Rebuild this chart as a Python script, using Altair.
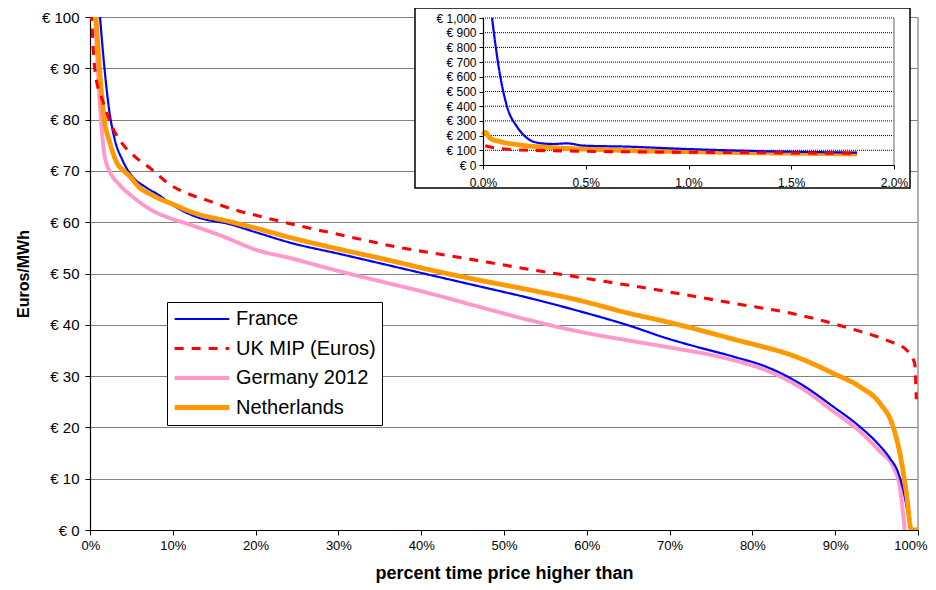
import altair as alt
import pandas as pd

# ---------------- data ----------------
names = ["France", "UK MIP (Euros)", "Germany 2012", "Netherlands"]
colors = ["#0000FF", "#FF0000", "#FF99CC", "#FF9900"]
dashes = [[1, 0], [9, 8], [1, 0], [1, 0]]
widths = [2.2, 4.8, 4.5, 4.5]

# main chart: percent of time (x) vs price EUR/MWh (y)
fr_x = [1.21, 1.73, 2.33, 2.93, 3.95, 5.16, 6.76, 8.4, 10.0, 12.9, 16.9, 20.1, 24.2, 30.2, 35.0,
        41.1, 47.0, 53.1, 59.0, 65.2, 69.6, 73.5, 77.7, 81.7, 85.7, 89.8, 93.0, 95.4, 96.6,
        97.6, 98.3, 98.8, 99.2]
fr_y = [100, 90.3, 81.7, 76.5, 72.0, 68.8, 66.8, 65.2, 63.3, 61.0, 59.6, 58.0, 56.0, 53.8, 52.0,
        49.7, 47.5, 45.2, 42.7, 39.8, 37.4, 35.6, 33.8, 31.8, 28.6, 24.0, 20.1, 16.4, 14.0,
        11.2, 7.2, 3.0, 0.0]

uk_x = [0.1, 0.24, 0.4, 0.72, 1.53, 2.54, 3.95, 5.56, 7.2, 9.6, 12.4, 14.1, 17.3, 20.9, 25.8, 29.8,
        37.0, 45.1, 53.1, 62.4, 69.6, 77.7, 85.7, 91.8, 96.2, 98.6, 99.6, 99.8]
uk_y = [101, 98.6, 93.4, 88.2, 83.7, 79.1, 75.2, 72.6, 70.6, 67.4, 65.2, 64.3, 62.5, 61.0, 59.1, 57.7,
        55.2, 53.0, 50.8, 48.4, 46.5, 44.2, 41.9, 39.3, 37.0, 35.1, 32.5, 25.5]

de_x = [0.64, 0.93, 1.33, 1.73, 2.54, 3.5, 5.2, 7.6, 9.3, 12.1, 16.1, 20.1, 24.2, 30.2, 35.0, 41.1,
        47.0, 53.1, 59.0, 65.2, 69.6, 77.7, 81.7, 85.7, 89.8, 93.0, 95.4, 97.0, 97.8, 98.4]
de_y = [100, 90.3, 80.0, 73.3, 69.4, 67.4, 64.9, 62.2, 61.0, 59.5, 57.2, 54.6, 53.0, 50.4, 48.5, 46.1,
        43.5, 40.9, 38.7, 36.9, 35.7, 33.1, 31.1, 27.9, 23.1, 19.2, 15.3, 12.3, 8.4, 0.0]

nl_x = [0.72, 1.13, 1.73, 2.33, 3.34, 4.1, 4.75, 5.95, 7.6, 10.0, 12.4, 16.9, 20.1, 24.2, 30.2, 35.0,
        41.1, 47.0, 53.1, 59.0, 65.2, 69.6, 77.7, 85.7, 89.8, 93.0, 95.4, 97.0, 97.8, 98.6, 99.2, 100.0]
nl_y = [100, 90.3, 80.0, 75.9, 71.3, 70.0, 69.0, 66.8, 65.2, 63.5, 61.9, 60.1, 58.8, 57.0, 54.7, 53.0,
        50.7, 48.7, 46.8, 44.8, 42.2, 40.6, 37.2, 33.5, 30.5, 27.9, 24.7, 20.1, 15.0, 7.2, 0.0, 0.0]

# inset: first 2% of the time
in_fr_x = [0.044, 0.076, 0.117, 0.165, 0.206, 0.263, 0.344, 0.408, 0.489, 0.70, 0.99, 1.27, 1.82]
in_fr_y = [1000, 669, 397, 261, 193, 152, 143, 147, 132, 125, 109, 97, 84]
in_uk_x = [0.011, 0.052, 0.18, 0.344, 0.62, 1.1, 1.82]
in_uk_y = [131, 118, 102, 97, 91, 86, 79]
in_nl_x = [0.0, 0.011, 0.036, 0.084, 0.18, 0.344, 0.62, 1.1, 1.82]
in_nl_y = [204, 222, 181, 159, 136, 118, 102, 88, 75]

main_ticks = list(range(0, 101, 10))
inset_x_ticks = [0.0, 0.5, 1.0, 1.5, 2.0]
inset_y_ticks = list(range(0, 1001, 100))

FONT = "Liberation Sans"


def frame(name, xs, ys):
    return pd.DataFrame({"x": xs, "y": ys, "series": name})


color_enc = alt.Color("series:N", title=None,
                      scale=alt.Scale(domain=names, range=colors),
                      legend=alt.Legend(orient="none", legendX=77, legendY=285))
dash_enc = alt.StrokeDash("series:N", title=None,
                          scale=alt.Scale(domain=names, range=dashes))
width_enc = alt.StrokeWidth("series:N", title=None,
                            scale=alt.Scale(domain=names, range=widths))

# ---------------- main chart ----------------
mx = alt.X("x:Q", scale=alt.Scale(domain=[0, 100], nice=False),
           axis=alt.Axis(values=main_ticks, labelExpr="datum.value + '%'", title="percent time price higher than",
                         grid=False, orient="bottom", labelFontSize=13, titleFontSize=18,
                         labelFlush=True, labelFlushOffset=9,
                         titleFontWeight="bold", titlePadding=12, labelPadding=4, tickSize=5))
my = alt.Y("y:Q", scale=alt.Scale(domain=[0, 100], nice=False),
           axis=alt.Axis(values=main_ticks, labelExpr="'€ ' + datum.value", title="Euros/MWh",
                         grid=True, gridColor="#000000", gridDash=[1, 1], gridWidth=1, labelFlush=False,
                         orient="left", labelFontSize=15, titleFontSize=16, titleFontWeight="bold",
                         titlePadding=10, labelPadding=6, tickSize=5))

main_border = alt.Chart(pd.DataFrame({"x": [100], "y0": [0], "y1": [100]})).mark_rule(
    color="#999999", strokeWidth=1.5).encode(
    x=mx, y=alt.Y("y0:Q", scale=alt.Scale(domain=[0, 100], nice=False)), y2="y1:Q")


def main_line(df):
    return alt.Chart(df).mark_line(clip=True, interpolate="monotone").encode(
        x=mx, y=my, color=color_enc, strokeDash=dash_enc, strokeWidth=width_enc)


main = alt.layer(
    main_border,
    main_line(frame("Germany 2012", de_x, de_y)),
    main_line(frame("France", fr_x, fr_y)),
    main_line(frame("Netherlands", nl_x, nl_y)),
    main_line(frame("UK MIP (Euros)", uk_x, uk_y)),
)

# ---------------- inset ----------------
ix_scale = alt.Scale(domain=[0, 2], nice=False, range=[393, 804])
iy_scale = alt.Scale(domain=[0, 1000], nice=False, range=[148, 1])
ix = alt.X("x:Q", scale=ix_scale,
           axis=alt.Axis(values=inset_x_ticks, labelExpr="format(datum.value, '.1f') + '%'", title=None,
                         grid=False, orient="bottom", offset=-365, zindex=2, labelFontSize=12,
                         labelFlush=False, tickSize=4, labelPadding=8))
iy = alt.Y("y:Q", scale=iy_scale,
           axis=alt.Axis(values=inset_y_ticks, labelExpr="'€ ' + format(datum.value, ',')", title=None,
                         grid=False, orient="left", offset=-393, zindex=2, labelFontSize=12,
                         labelFlush=False, tickSize=4, labelPadding=3))

inset_box = alt.Chart(pd.DataFrame({"a": [0]})).mark_rect(
    fill="white", stroke="black", strokeWidth=1.5).encode(
    x=alt.value(325), x2=alt.value(820), y=alt.value(-9), y2=alt.value(171))

inset_grid = alt.Chart(pd.DataFrame({"y": inset_y_ticks[1:], "x": 0, "x2": 2})).mark_rule(
    color="#000000", strokeDash=[1, 1], strokeWidth=1).encode(x=ix, x2="x2:Q", y=iy)

inset_border = alt.Chart(pd.DataFrame({"x": [2], "y": [0], "y2": [1000]})).mark_rule(
    color="#999999", strokeWidth=1.5).encode(x=ix, y=iy, y2="y2:Q")


def inset_line(df):
    return alt.Chart(df).mark_line(clip=False, interpolate="monotone").encode(
        x=ix, y=iy, color=color_enc, strokeDash=dash_enc, strokeWidth=width_enc)


inset = alt.layer(
    inset_box,
    inset_grid,
    inset_border,
    inset_line(frame("Netherlands", in_nl_x, in_nl_y)),
    inset_line(frame("France", in_fr_x, in_fr_y)),
    inset_line(frame("UK MIP (Euros)", in_uk_x, in_uk_y)),
)

chart = alt.layer(main, inset).resolve_scale(
    x="independent", y="independent"
).resolve_axis(
    x="independent", y="independent"
).properties(
    width=828, height=513,
    autosize=alt.AutoSizeParams(type="none"),
    padding={"left": 82, "top": 9, "right": 10, "bottom": 60},
).configure_view(stroke=None).configure_axis(
    labelFont=FONT, titleFont=FONT, labelColor="#000000", titleColor="#000000",
    domainColor="#000000", tickColor="#000000", domainWidth=1.2,
).configure_legend(
    labelFont=FONT, labelFontSize=20, labelColor="#000000", symbolType="stroke",
    symbolSize=3000, clipHeight=24, strokeColor="#000000", fillColor="white", padding=5,
    rowPadding=5.5, labelOffset=4, labelLimit=400, symbolOpacity=1,
)

chart.save("out.html", embed_options={"renderer": "svg", "actions": False})
